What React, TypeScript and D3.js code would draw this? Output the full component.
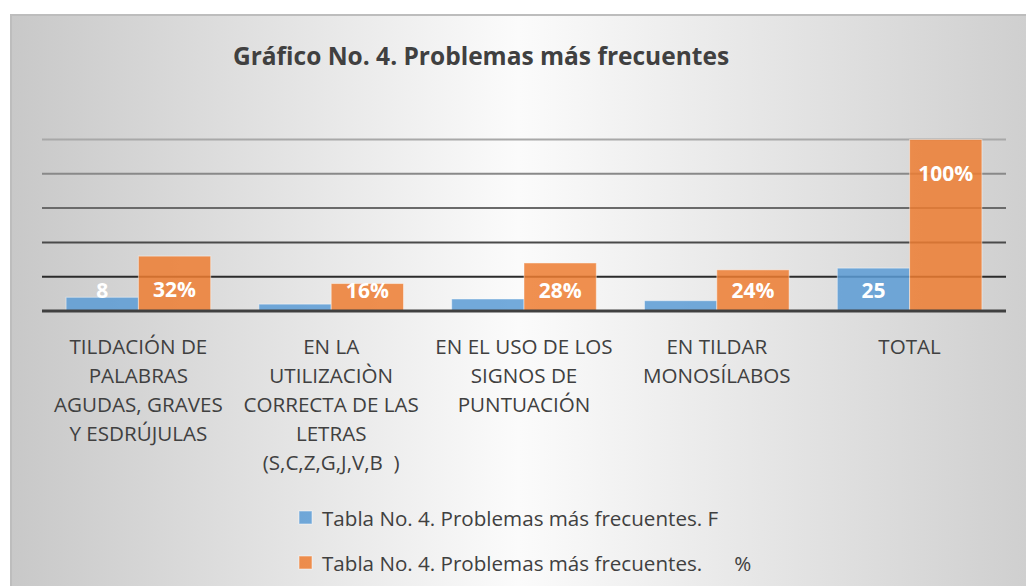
import React from 'react'
import * as d3 from 'd3'

const categories = [
  ['TILDACIÓN DE', 'PALABRAS', 'AGUDAS, GRAVES', 'Y ESDRÚJULAS'],
  ['EN LA', 'UTILIZACIÒN', 'CORRECTA DE LAS', 'LETRAS', '(S,C,Z,G,J,V,B  )'],
  ['EN EL USO DE LOS', 'SIGNOS DE', 'PUNTUACIÓN'],
  ['EN TILDAR', 'MONOSÍLABOS'],
  ['TOTAL'],
]
const freq = [8, 4, 7, 6, 25]
const pct = [32, 16, 28, 24, 100]
const freqLabels = ['8', '', '', '', '25']
const pctLabels = ['32%', '16%', '28%', '24%', '100%']
const gridTicks = [20, 40, 60, 80, 100]
const seriesNames = [
  'Tabla No. 4. Problemas más frecuentes. F',
  'Tabla No. 4. Problemas más frecuentes.      %',
]

const W = 1026
const H = 586
const FONT = '"Open Sans", Lato, sans-serif'
const BLUE = '#5B9BD5'
const ORANGE = '#ED7D31'
const TEXT = '#404040'

export default function App() {
  const left = 42
  const right = 1006
  const y = d3.scaleLinear().domain([0, 100]).range([311, 139.5])
  const x = d3
    .scaleBand<number>()
    .domain(d3.range(categories.length))
    .range([left, right])
    .paddingInner(0.25)
    .paddingOuter(0.125)
  const x1 = d3
    .scaleBand<number>()
    .domain([0, 1])
    .range([0, x.bandwidth()])

  const gridColor = d3
    .scaleLinear<string>()
    .domain([20, 100])
    .range(['#2b2b2b', '#a8a8a8'])

  const labelY = (v: number) => Math.min(y(v) + 34, y(0) - 20)

  const cats = d3.range(categories.length)

  return (
    <svg
      width={W}
      height={H}
      style={{ position: 'absolute', left: 0, top: 0, fontFamily: FONT }}
    >
      <defs>
        <linearGradient id="bg" x1="0" x2="1" y1="0" y2="0">
          <stop offset="0" stopColor="#c8c8c8" />
          <stop offset="0.5" stopColor="#fbfbfb" />
          <stop offset="1" stopColor="#cfcfcf" />
        </linearGradient>
      </defs>
      <rect x={0} y={0} width={W} height={H} fill="#fff" />
      <rect
        x={11}
        y={15}
        width={W - 10}
        height={H - 14}
        fill="url(#bg)"
        stroke="#bdbdbd"
        strokeWidth={2}
      />
      <text
        x={481}
        y={65}
        textAnchor="middle"
        fontSize={24.5}
        fontWeight="bold"
        fill={TEXT}
      >
        Gráfico No. 4. Problemas más frecuentes
      </text>

      {gridTicks.map((t) => (
        <line
          key={t}
          x1={left}
          x2={right}
          y1={y(t)}
          y2={y(t)}
          stroke={gridColor(t)}
          strokeWidth={2}
        />
      ))}

      {cats.map((i) => (
        <g key={i} transform={`translate(${x(i)},0)`}>
          <rect
            x={x1(0)}
            y={y(freq[i])}
            width={x1.bandwidth()}
            height={y(0) - y(freq[i])}
            fill={BLUE}
            fillOpacity={0.85}
            stroke="#ffffff"
            strokeOpacity={0.45}
          />
          <rect
            x={x1(1)}
            y={y(pct[i])}
            width={x1.bandwidth()}
            height={y(0) - y(pct[i])}
            fill={ORANGE}
            fillOpacity={0.85}
            stroke="#ffffff"
            strokeOpacity={0.45}
          />
          <text
            x={(x1(0) as number) + x1.bandwidth() / 2}
            y={labelY(freq[i])}
            dy="0.35em"
            textAnchor="middle"
            fontSize={21}
            fontWeight="bold"
            fill="#fff"
          >
            {freqLabels[i]}
          </text>
          <text
            x={(x1(1) as number) + x1.bandwidth() / 2}
            y={labelY(pct[i])}
            dy="0.35em"
            textAnchor="middle"
            fontSize={21}
            fontWeight="bold"
            fill="#fff"
          >
            {pctLabels[i]}
          </text>
        </g>
      ))}

      <line
        x1={left}
        x2={right}
        y1={y(0)}
        y2={y(0)}
        stroke="#404040"
        strokeWidth={3}
      />

      {cats.map((i) => (
        <text
          key={i}
          x={(x(i) as number) + x.bandwidth() / 2}
          y={354}
          textAnchor="middle"
          fontSize={20.6}
          fill={TEXT}
        >
          {categories[i].map((line, k) => (
            <tspan
              key={k}
              x={(x(i) as number) + x.bandwidth() / 2}
              dy={k === 0 ? 0 : 29}
              style={{ whiteSpace: 'pre' }}
            >
              {line}
            </tspan>
          ))}
        </text>
      ))}

      {seriesNames.map((name, i) => (
        <g key={i} transform={`translate(299,${511 + i * 45})`}>
          <rect
            width={13}
            height={13}
            fill={i === 0 ? BLUE : ORANGE}
            fillOpacity={0.85}
            stroke="#fff"
            strokeOpacity={0.5}
          />
          <text
            x={23}
            y={15}
            fontSize={20.6}
            fill={TEXT}
            style={{ whiteSpace: 'pre' }}
          >
            {name}
          </text>
        </g>
      ))}
    </svg>
  )
}
